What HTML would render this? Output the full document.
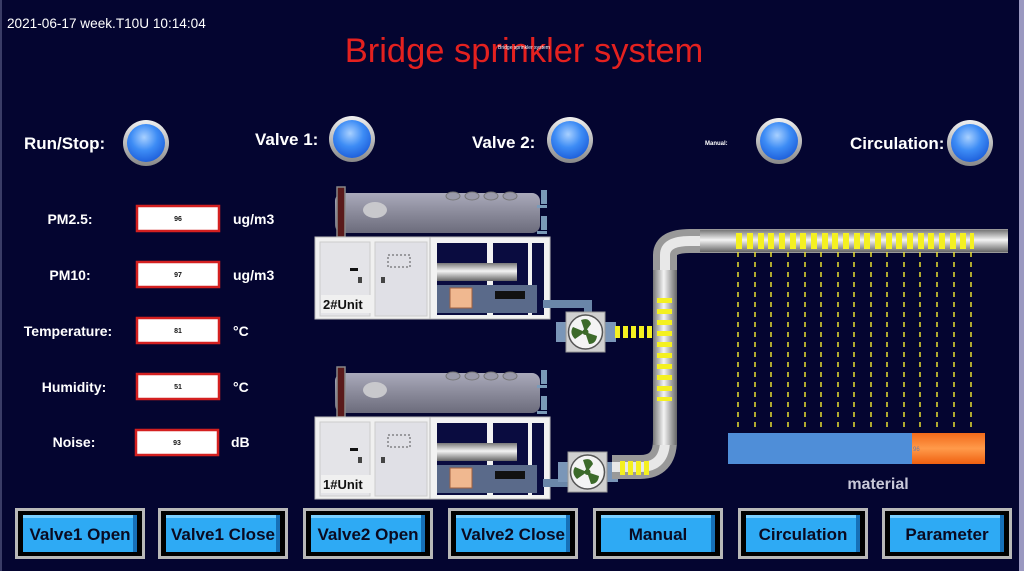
<!DOCTYPE html>
<html><head><meta charset="utf-8"><style>
html,body{margin:0;padding:0;background:#040530;}
svg{display:block;font-family:"Liberation Sans",Arial,sans-serif;}
</style></head><body>
<svg width="1024" height="571" viewBox="0 0 1024 571" xmlns="http://www.w3.org/2000/svg">
<defs>
<radialGradient id="led" cx="0.45" cy="0.35" r="0.7">
<stop offset="0" stop-color="#a8d0ff"/><stop offset="0.5" stop-color="#3d8cf5"/><stop offset="1" stop-color="#1a5ad8"/></radialGradient>
<linearGradient id="ring" x1="0" y1="0" x2="0" y2="1"><stop offset="0" stop-color="#f0f0f0"/><stop offset="1" stop-color="#888"/></linearGradient>
<linearGradient id="pipeH" x1="0" y1="0" x2="0" y2="1"><stop offset="0" stop-color="#777"/><stop offset="0.45" stop-color="#f4f4f4"/><stop offset="1" stop-color="#666"/></linearGradient>
<linearGradient id="pipeV" x1="0" y1="0" x2="1" y2="0"><stop offset="0" stop-color="#777"/><stop offset="0.45" stop-color="#f4f4f4"/><stop offset="1" stop-color="#666"/></linearGradient>
<linearGradient id="tank" x1="0" y1="0" x2="0" y2="1"><stop offset="0" stop-color="#aaaabb"/><stop offset="0.5" stop-color="#8a8a9a"/><stop offset="1" stop-color="#6c6c7c"/></linearGradient>
<linearGradient id="orange" x1="0" y1="0" x2="0" y2="1"><stop offset="0" stop-color="#f26a1a"/><stop offset="0.5" stop-color="#ff9a4a"/><stop offset="1" stop-color="#f06010"/></linearGradient>
<g id="unit">
<rect x="20" y="8" width="205" height="40" rx="8" fill="url(#tank)"/>
<rect x="22" y="2" width="8" height="50" fill="#5a1a1a" stroke="#888" stroke-width="1.5"/>
<ellipse cx="60" cy="25" rx="12" ry="8" fill="#c8c8cc"/>
<ellipse cx="138" cy="11" rx="7" ry="4" fill="#9a9aaa" stroke="#777"/>
<ellipse cx="157" cy="11" rx="7" ry="4" fill="#9a9aaa" stroke="#777"/>
<ellipse cx="176" cy="11" rx="7" ry="4" fill="#9a9aaa" stroke="#777"/>
<ellipse cx="195" cy="11" rx="7" ry="4" fill="#9a9aaa" stroke="#777"/>
<rect x="226" y="5" width="6" height="14" fill="#7a9ab8"/><rect x="222" y="20" width="10" height="3" fill="#7a9ab8"/>
<rect x="226" y="31" width="6" height="14" fill="#7a9ab8"/><rect x="222" y="46" width="10" height="3" fill="#7a9ab8"/>
<rect x="0" y="52" width="115" height="82" fill="#f0f0f0" stroke="#bbb"/>
<rect x="5" y="57" width="50" height="74" fill="#e4e4e8" stroke="#ccc"/>
<rect x="60" y="57" width="52" height="74" fill="#e0e0e6" stroke="#ccc"/>
<rect x="35" y="83" width="8" height="3" fill="#111"/>
<rect x="43" y="92" width="4" height="6" fill="#444"/><rect x="66" y="92" width="4" height="6" fill="#444"/>
<rect x="73" y="70" width="22" height="12" fill="none" stroke="#555" stroke-dasharray="2 2"/>
<rect x="115" y="52" width="120" height="82" fill="#f2f2f2" stroke="#bbb"/>
<rect x="122" y="58" width="50" height="72" fill="#0a0c40"/>
<rect x="178" y="58" width="35" height="72" fill="#0a0c40"/>
<rect x="217" y="58" width="12" height="72" fill="#0a0c40"/>
<rect x="122" y="78" width="80" height="18" fill="url(#pipeH)"/>
<rect x="122" y="100" width="100" height="28" fill="#5a6a8a"/>
<rect x="135" y="103" width="22" height="20" fill="#f0b890" stroke="#a06040"/>
<rect x="180" y="106" width="30" height="8" fill="#111"/>
</g>
</defs>

<rect x="0" y="0" width="1024" height="571" fill="#040530"/>
<rect x="1019" y="0" width="5" height="571" fill="#9a98c0"/>
<rect x="0" y="0" width="2" height="571" fill="#3a3c66"/>

<text x="7" y="28" font-size="13.6" fill="#fff">2021-06-17 week.T10U 10:14:04</text>
<text x="524" y="62" font-size="34.5" fill="#e4211f" text-anchor="middle">Bridge sprinkler system</text>
<text x="524" y="49" font-size="5" fill="#fff" text-anchor="middle">Bridge sprinkler system</text>

<g font-weight="bold" fill="#fff" font-size="17">
<text x="24" y="149">Run/Stop:</text>
<text x="255" y="145">Valve 1:</text>
<text x="472" y="148">Valve 2:</text>
<text x="705" y="145" font-size="6">Manual:</text>
<text x="850" y="149">Circulation:</text>
</g>
<g>
<circle cx="146" cy="143" r="23" fill="url(#ring)"/><circle cx="146" cy="143" r="19" fill="url(#led)"/>
<circle cx="352" cy="139" r="23" fill="url(#ring)"/><circle cx="352" cy="139" r="19" fill="url(#led)"/>
<circle cx="570" cy="140" r="23" fill="url(#ring)"/><circle cx="570" cy="140" r="19" fill="url(#led)"/>
<circle cx="779" cy="141" r="23" fill="url(#ring)"/><circle cx="779" cy="141" r="19" fill="url(#led)"/>
<circle cx="970" cy="143" r="23" fill="url(#ring)"/><circle cx="970" cy="143" r="19" fill="url(#led)"/>
</g>

<g font-weight="bold" font-size="14" fill="#fff">
<text x="70" y="224" text-anchor="middle">PM2.5:</text>
<text x="70" y="280" text-anchor="middle">PM10:</text>
<text x="68" y="336" text-anchor="middle">Temperature:</text>
<text x="74" y="392" text-anchor="middle">Humidity:</text>
<text x="74" y="447" text-anchor="middle">Noise:</text>
<text x="233" y="224">ug/m3</text>
<text x="233" y="280">ug/m3</text>
<text x="233" y="336">°C</text>
<text x="233" y="392">°C</text>
<text x="231" y="447">dB</text>
</g>
<g fill="#fff" stroke="#d42020" stroke-width="2.5">
<rect x="137" y="206" width="82" height="25"/>
<rect x="137" y="262" width="82" height="25"/>
<rect x="137" y="318" width="82" height="25"/>
<rect x="137" y="374" width="82" height="25"/>
<rect x="136" y="430" width="82" height="25"/>
</g>
<g font-size="7" font-weight="bold" fill="#111" text-anchor="middle">
<text x="178" y="221">96</text><text x="178" y="277">97</text><text x="178" y="333">81</text><text x="178" y="389">51</text><text x="177" y="445">93</text>
</g>

<g transform="translate(315,185)">
<use href="#unit"/><rect x="6" y="110" width="50" height="18" fill="#f0f0f0"/><text x="8" y="124" font-size="13" font-weight="bold" fill="#111">2#Unit</text>
</g>
<g transform="translate(315,365)">
<use href="#unit"/><rect x="6" y="110" width="50" height="18" fill="#f0f0f0"/><text x="8" y="124" font-size="13" font-weight="bold" fill="#111">1#Unit</text>
</g>
<path d="M543,304 H588 V320" fill="none" stroke="#6a86a8" stroke-width="8"/>
<path d="M543,483 H590 V470" fill="none" stroke="#6a86a8" stroke-width="8"/>
<rect x="556" y="322" width="12" height="20" fill="#7a96b8"/><rect x="604" y="322" width="12" height="20" fill="#7a96b8"/>
<rect x="558" y="462" width="12" height="20" fill="#7a96b8"/><rect x="606" y="462" width="12" height="20" fill="#7a96b8"/>

<path d="M612,332 H660" stroke="url(#pipeH)" stroke-width="14" fill="none"/>
<path d="M612,467 H640 Q665,467 665,440 V255 Q665,241 690,241 H1008" stroke="#999" stroke-width="24" fill="none"/>
<path d="M612,467 H640 Q665,467 665,440 V255 Q665,241 690,241 H1008" stroke="#e8e8e8" stroke-width="10" fill="none"/>
<rect x="700" y="230" width="308" height="22" fill="url(#pipeH)"/>
<rect x="653" y="270" width="24" height="175" fill="url(#pipeV)"/>

<g>
<rect x="566" y="312" width="39" height="40" fill="#d0d0d0" stroke="#999"/>
<circle cx="585.5" cy="332" r="17" fill="#f4f4f4" stroke="#555" stroke-width="1.5"/>
<path d="M585,332 l-4,-12 q8,-3 10,4 z M585,332 l12,4 q-1,8 -8,8 z M585,332 l-10,7 q-6,-6 -2,-12 z" fill="#3c6a2a"/>
<circle cx="585.5" cy="332" r="3" fill="#3c6a2a"/>
<rect x="568" y="452" width="39" height="40" fill="#d0d0d0" stroke="#999"/>
<circle cx="587.5" cy="472" r="17" fill="#f4f4f4" stroke="#555" stroke-width="1.5"/>
<path d="M587,472 l-4,-12 q8,-3 10,4 z M587,472 l12,4 q-1,8 -8,8 z M587,472 l-10,7 q-6,-6 -2,-12 z" fill="#3c6a2a"/>
<circle cx="587.5" cy="472" r="3" fill="#3c6a2a"/>
</g>

<g fill="#f4f020">
<rect x="615" y="326" width="5" height="12"/><rect x="623" y="326" width="5" height="12"/><rect x="631" y="326" width="5" height="12"/><rect x="639" y="326" width="5" height="12"/><rect x="647" y="326" width="5" height="12"/>
<rect x="620" y="461" width="5" height="14"/><rect x="628" y="461" width="5" height="14"/><rect x="636" y="461" width="5" height="14"/><rect x="644" y="461" width="5" height="14"/>
</g>
<g fill="#f4f020">
<rect x="657" y="298" width="15" height="5"/><rect x="657" y="309" width="15" height="5"/><rect x="657" y="320" width="15" height="5"/><rect x="657" y="331" width="15" height="5"/><rect x="657" y="342" width="15" height="5"/><rect x="657" y="353" width="15" height="5"/><rect x="657" y="364" width="15" height="5"/><rect x="657" y="375" width="15" height="5"/><rect x="657" y="386" width="15" height="5"/><rect x="657" y="397" width="15" height="4"/>
</g>
<g fill="#f4f020">
<rect x="736" y="233" width="6" height="16"/><rect x="747" y="233" width="6" height="16"/><rect x="758" y="233" width="6" height="16"/><rect x="768" y="233" width="6" height="16"/><rect x="779" y="233" width="6" height="16"/><rect x="790" y="233" width="6" height="16"/><rect x="800" y="233" width="6" height="16"/><rect x="811" y="233" width="6" height="16"/><rect x="822" y="233" width="6" height="16"/><rect x="832" y="233" width="6" height="16"/><rect x="843" y="233" width="6" height="16"/><rect x="854" y="233" width="6" height="16"/><rect x="864" y="233" width="6" height="16"/><rect x="875" y="233" width="6" height="16"/><rect x="886" y="233" width="6" height="16"/><rect x="896" y="233" width="6" height="16"/><rect x="907" y="233" width="6" height="16"/><rect x="918" y="233" width="6" height="16"/><rect x="928" y="233" width="6" height="16"/><rect x="939" y="233" width="6" height="16"/><rect x="950" y="233" width="6" height="16"/><rect x="960" y="233" width="6" height="16"/><rect x="970" y="233" width="4" height="16"/>
</g>
<g stroke="#e8e030" stroke-width="1.5" stroke-dasharray="5 5">
<line x1="738" y1="252" x2="738" y2="427"/><line x1="755" y1="252" x2="755" y2="427"/><line x1="771" y1="252" x2="771" y2="427"/><line x1="788" y1="252" x2="788" y2="427"/><line x1="805" y1="252" x2="805" y2="427"/><line x1="821" y1="252" x2="821" y2="427"/><line x1="838" y1="252" x2="838" y2="427"/><line x1="854" y1="252" x2="854" y2="427"/><line x1="871" y1="252" x2="871" y2="427"/><line x1="887" y1="252" x2="887" y2="427"/><line x1="904" y1="252" x2="904" y2="427"/><line x1="920" y1="252" x2="920" y2="427"/><line x1="937" y1="252" x2="937" y2="427"/><line x1="954" y1="252" x2="954" y2="427"/><line x1="971" y1="252" x2="971" y2="427"/>
</g>

<rect x="728" y="433" width="184" height="31" fill="#4f8ed8"/>
<rect x="912" y="433" width="73" height="31" fill="url(#orange)"/>
<text x="913" y="451" font-size="6" fill="#6a7aa8">96</text>
<text x="878" y="489" font-size="16" font-weight="bold" fill="#c8c8d8" text-anchor="middle">material</text>

<g>
<g transform="translate(15,508)"><rect width="130" height="51" fill="#b8b8b8"/><rect x="3" y="3" width="124" height="45" fill="#000"/><rect x="8" y="7" width="114" height="37" fill="#2eaaf4"/><rect x="8" y="7" width="114" height="3" fill="#7ad0ff"/><rect x="118" y="7" width="4" height="37" fill="#1670b8"/></g>
<g transform="translate(158,508)"><rect width="130" height="51" fill="#b8b8b8"/><rect x="3" y="3" width="124" height="45" fill="#000"/><rect x="8" y="7" width="114" height="37" fill="#2eaaf4"/><rect x="8" y="7" width="114" height="3" fill="#7ad0ff"/><rect x="118" y="7" width="4" height="37" fill="#1670b8"/></g>
<g transform="translate(303,508)"><rect width="130" height="51" fill="#b8b8b8"/><rect x="3" y="3" width="124" height="45" fill="#000"/><rect x="8" y="7" width="114" height="37" fill="#2eaaf4"/><rect x="8" y="7" width="114" height="3" fill="#7ad0ff"/><rect x="118" y="7" width="4" height="37" fill="#1670b8"/></g>
<g transform="translate(448,508)"><rect width="130" height="51" fill="#b8b8b8"/><rect x="3" y="3" width="124" height="45" fill="#000"/><rect x="8" y="7" width="114" height="37" fill="#2eaaf4"/><rect x="8" y="7" width="114" height="3" fill="#7ad0ff"/><rect x="118" y="7" width="4" height="37" fill="#1670b8"/></g>
<g transform="translate(593,508)"><rect width="130" height="51" fill="#b8b8b8"/><rect x="3" y="3" width="124" height="45" fill="#000"/><rect x="8" y="7" width="114" height="37" fill="#2eaaf4"/><rect x="8" y="7" width="114" height="3" fill="#7ad0ff"/><rect x="118" y="7" width="4" height="37" fill="#1670b8"/></g>
<g transform="translate(738,508)"><rect width="130" height="51" fill="#b8b8b8"/><rect x="3" y="3" width="124" height="45" fill="#000"/><rect x="8" y="7" width="114" height="37" fill="#2eaaf4"/><rect x="8" y="7" width="114" height="3" fill="#7ad0ff"/><rect x="118" y="7" width="4" height="37" fill="#1670b8"/></g>
<g transform="translate(882,508)"><rect width="130" height="51" fill="#b8b8b8"/><rect x="3" y="3" width="124" height="45" fill="#000"/><rect x="8" y="7" width="114" height="37" fill="#2eaaf4"/><rect x="8" y="7" width="114" height="3" fill="#7ad0ff"/><rect x="118" y="7" width="4" height="37" fill="#1670b8"/></g>
</g>
<g font-size="17" font-weight="bold" fill="#0a0a20" text-anchor="middle">
<text x="80" y="540">Valve1 Open</text>
<text x="223" y="540">Valve1 Close</text>
<text x="368" y="540">Valve2 Open</text>
<text x="513" y="540">Valve2 Close</text>
<text x="658" y="540">Manual</text>
<text x="803" y="540">Circulation</text>
<text x="947" y="540">Parameter</text>
</g>
</svg>
</body></html>
